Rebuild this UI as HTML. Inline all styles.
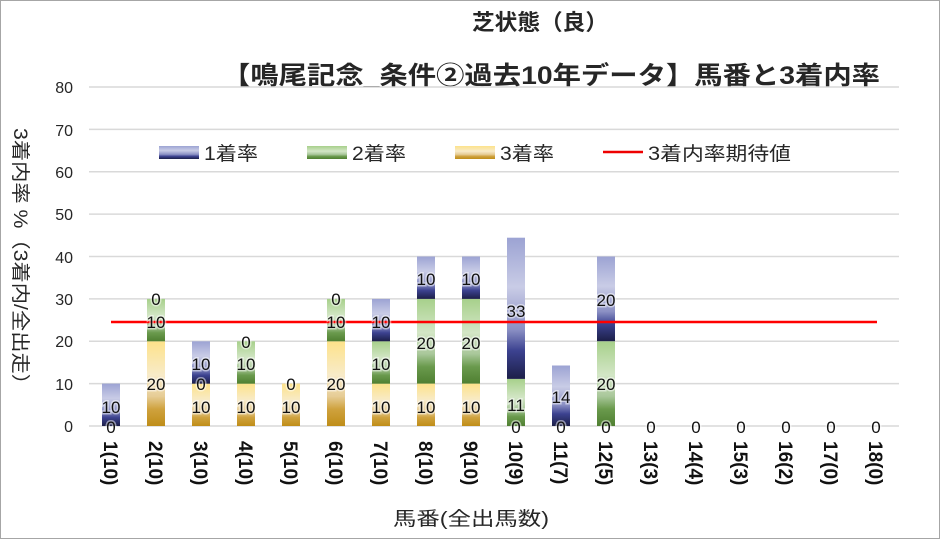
<!DOCTYPE html>
<html><head><meta charset="utf-8"><style>
body{margin:0;background:#fff}
svg{display:block;font-family:"Liberation Sans","Noto Sans CJK JP",sans-serif}
</style></head><body>
<svg width="940" height="539" viewBox="0 0 940 539">
<defs>
<linearGradient id="gb" x1="0" y1="0" x2="0" y2="1"><stop offset="0" stop-color="#9ca3d3"/><stop offset="0.35" stop-color="#c9cce6"/><stop offset="0.65" stop-color="#8b90c4"/><stop offset="0.8" stop-color="#3c4290"/><stop offset="1" stop-color="#1c1f48"/></linearGradient>
<linearGradient id="gg" x1="0" y1="0" x2="0" y2="1"><stop offset="0" stop-color="#a7d08b"/><stop offset="0.4" stop-color="#d3e6c6"/><stop offset="0.65" stop-color="#a9c79a"/><stop offset="0.8" stop-color="#6a9a4d"/><stop offset="1" stop-color="#4f7f31"/></linearGradient>
<linearGradient id="gy" x1="0" y1="0" x2="0" y2="1"><stop offset="0" stop-color="#fde28a"/><stop offset="0.4" stop-color="#f8ebc9"/><stop offset="0.65" stop-color="#e6cc95"/><stop offset="0.8" stop-color="#cfa23e"/><stop offset="1" stop-color="#bf8d18"/></linearGradient>
</defs>
<rect x="0.5" y="0.5" width="939" height="538" fill="#fff" stroke="#a6a6a6"/>
<text x="472" y="30" font-size="22" font-weight="bold" fill="#262626" textLength="136" lengthAdjust="spacingAndGlyphs">芝状態（良）</text>
<text x="222" y="84" font-size="25" font-weight="bold" fill="#262626" textLength="658" lengthAdjust="spacingAndGlyphs">【鳴尾記念_条件②過去10年データ】馬番と3着内率</text>
<g stroke="#d9d9d9" stroke-width="1.5">
<line x1="89" y1="426" x2="899" y2="426"/><line x1="89" y1="383.6" x2="899" y2="383.6"/><line x1="89" y1="341.3" x2="899" y2="341.3"/><line x1="89" y1="298.9" x2="899" y2="298.9"/><line x1="89" y1="256.5" x2="899" y2="256.5"/><line x1="89" y1="214.1" x2="899" y2="214.1"/><line x1="89" y1="171.8" x2="899" y2="171.8"/><line x1="89" y1="129.4" x2="899" y2="129.4"/><line x1="89" y1="87" x2="899" y2="87"/>
</g>
<g font-size="16" fill="#262626" text-anchor="end">
<text x="73" y="432">0</text><text x="73" y="390">10</text><text x="73" y="347">20</text><text x="73" y="305">30</text><text x="73" y="263">40</text><text x="73" y="220">50</text><text x="73" y="178">60</text><text x="73" y="136">70</text><text x="73" y="93">80</text>
</g>
<text transform="translate(14,128) rotate(90)" font-size="19" fill="#262626" textLength="267" lengthAdjust="spacingAndGlyphs">3着内率 %（3着内/全出走）</text>
<!-- legend -->
<rect x="159" y="146" width="40" height="13" fill="url(#gb)"/><text x="204" y="160" font-size="19" fill="#262626" textLength="54" lengthAdjust="spacingAndGlyphs">1着率</text>
<rect x="307" y="146" width="40" height="13" fill="url(#gg)"/><text x="352" y="160" font-size="19" fill="#262626" textLength="54" lengthAdjust="spacingAndGlyphs">2着率</text>
<rect x="455" y="146" width="40" height="13" fill="url(#gy)"/><text x="500" y="160" font-size="19" fill="#262626" textLength="54" lengthAdjust="spacingAndGlyphs">3着率</text>
<line x1="603" y1="152" x2="643" y2="152" stroke="#e00" stroke-width="2.5"/><text x="648" y="160" font-size="19" fill="#262626" textLength="143" lengthAdjust="spacingAndGlyphs">3着内率期待値</text>
<g>
<rect x="102" y="383.6" width="18" height="42.4" fill="url(#gb)"/>
<rect x="147" y="341.3" width="18" height="84.7" fill="url(#gy)"/><rect x="147" y="298.9" width="18" height="42.4" fill="url(#gg)"/>
<rect x="192" y="383.6" width="18" height="42.4" fill="url(#gy)"/><rect x="192" y="341.3" width="18" height="42.4" fill="url(#gb)"/>
<rect x="237" y="383.6" width="18" height="42.4" fill="url(#gy)"/><rect x="237" y="341.3" width="18" height="42.4" fill="url(#gg)"/>
<rect x="282" y="383.6" width="18" height="42.4" fill="url(#gy)"/>
<rect x="327" y="341.3" width="18" height="84.7" fill="url(#gy)"/><rect x="327" y="298.9" width="18" height="42.4" fill="url(#gg)"/>
<rect x="372" y="383.6" width="18" height="42.4" fill="url(#gy)"/><rect x="372" y="341.3" width="18" height="42.4" fill="url(#gg)"/><rect x="372" y="298.9" width="18" height="42.4" fill="url(#gb)"/>
<rect x="417" y="383.6" width="18" height="42.4" fill="url(#gy)"/><rect x="417" y="298.9" width="18" height="84.7" fill="url(#gg)"/><rect x="417" y="256.5" width="18" height="42.4" fill="url(#gb)"/>
<rect x="462" y="383.6" width="18" height="42.4" fill="url(#gy)"/><rect x="462" y="298.9" width="18" height="84.7" fill="url(#gg)"/><rect x="462" y="256.5" width="18" height="42.4" fill="url(#gb)"/>
<rect x="507" y="378.9" width="18" height="47.1" fill="url(#gg)"/><rect x="507" y="237.7" width="18" height="141.2" fill="url(#gb)"/>
<rect x="552" y="365.5" width="18" height="60.5" fill="url(#gb)"/>
<rect x="597" y="341.3" width="18" height="84.7" fill="url(#gg)"/><rect x="597" y="256.5" width="18" height="84.7" fill="url(#gb)"/>
</g>
<line x1="111" y1="322" x2="877" y2="322" stroke="#f00" stroke-width="2.5"/>
<g font-size="17" fill="#111" text-anchor="middle" stroke="#fff" stroke-opacity="0.5" stroke-width="3" paint-order="stroke">
<text x="111" y="433">0</text><text x="111" y="413">10</text>
<text x="156" y="390">20</text><text x="156" y="328">10</text><text x="156" y="305">0</text>
<text x="201" y="413">10</text><text x="201" y="390">0</text><text x="201" y="370">10</text>
<text x="246" y="413">10</text><text x="246" y="370">10</text><text x="246" y="348">0</text>
<text x="291" y="413">10</text><text x="291" y="390">0</text>
<text x="336" y="390">20</text><text x="336" y="328">10</text><text x="336" y="305">0</text>
<text x="381" y="413">10</text><text x="381" y="370">10</text><text x="381" y="328">10</text>
<text x="426" y="413">10</text><text x="426" y="349">20</text><text x="426" y="285">10</text>
<text x="471" y="413">10</text><text x="471" y="349">20</text><text x="471" y="285">10</text>
<text x="516" y="433">0</text><text x="516" y="411">11</text><text x="516" y="317">33</text>
<text x="561" y="433">0</text><text x="561" y="403">14</text>
<text x="606" y="433">0</text><text x="606" y="390">20</text><text x="606" y="306">20</text>
<text x="651" y="433">0</text><text x="696" y="433">0</text><text x="741" y="433">0</text><text x="786" y="433">0</text><text x="831" y="433">0</text><text x="876" y="433">0</text>
</g>
<g font-size="19" font-weight="bold" fill="#111">
<text transform="translate(104,441) rotate(90)">1(10)</text>
<text transform="translate(149,441) rotate(90)">2(10)</text>
<text transform="translate(194,441) rotate(90)">3(10)</text>
<text transform="translate(239,441) rotate(90)">4(10)</text>
<text transform="translate(284,441) rotate(90)">5(10)</text>
<text transform="translate(329,441) rotate(90)">6(10)</text>
<text transform="translate(374,441) rotate(90)">7(10)</text>
<text transform="translate(419,441) rotate(90)">8(10)</text>
<text transform="translate(464,441) rotate(90)">9(10)</text>
<text transform="translate(509,441) rotate(90)">10(9)</text>
<text transform="translate(554,441) rotate(90)">11(7)</text>
<text transform="translate(599,441) rotate(90)">12(5)</text>
<text transform="translate(644,441) rotate(90)">13(3)</text>
<text transform="translate(689,441) rotate(90)">14(4)</text>
<text transform="translate(734,441) rotate(90)">15(3)</text>
<text transform="translate(779,441) rotate(90)">16(2)</text>
<text transform="translate(824,441) rotate(90)">17(0)</text>
<text transform="translate(869,441) rotate(90)">18(0)</text>
</g>
<text x="393" y="525" font-size="19" fill="#262626" textLength="156" lengthAdjust="spacingAndGlyphs">馬番(全出馬数)</text>
</svg>
</body></html>
